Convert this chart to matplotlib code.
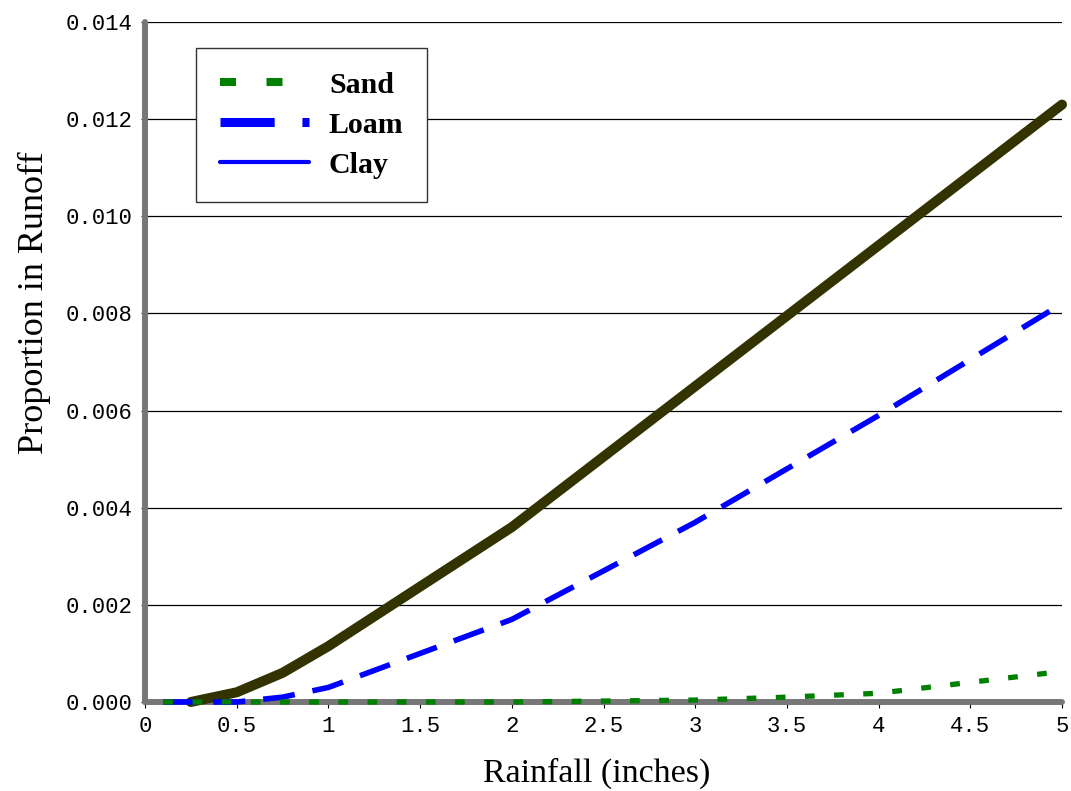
import matplotlib
matplotlib.use("Agg")
import matplotlib.pyplot as plt
from matplotlib.lines import Line2D

plt.rcParams['lines.scale_dashes'] = False

# values
clay_x = [0.25, 0.5, 0.75, 1, 2, 3, 4, 5]
clay_y = [0, 0.0002, 0.0006, 0.00115, 0.0036, 0.0065, 0.0094, 0.0123]
loam_x = [0.1, 0.5, 0.75, 1, 2, 3, 4, 5]
loam_y = [0, 0, 0.0001, 0.0003, 0.0017, 0.0037, 0.0059, 0.0082]
sand_x = [0.1, 1, 2, 3, 3.5, 4, 5]
sand_y = [0, 0, 0, 0.00004, 0.0001, 0.00018, 0.00063]

x_ticks = [0, 0.5, 1, 1.5, 2, 2.5, 3, 3.5, 4, 4.5, 5]
x_labels = ['0', '0.5', '1', '1.5', '2', '2.5', '3', '3.5', '4', '4.5', '5']
y_ticks = [0, 0.002, 0.004, 0.006, 0.008, 0.010, 0.012, 0.014]
y_labels = ['0.000', '0.002', '0.004', '0.006', '0.008', '0.010', '0.012', '0.014']

fig = plt.figure(figsize=(10.71, 7.91), dpi=100)
ax = fig.add_axes([145 / 1071, 1 - 702 / 791, 917 / 1071, 680 / 791])

ax.plot(clay_x, clay_y, color='#333300', lw=7.2, solid_capstyle='round',
        solid_joinstyle='round', zorder=3, clip_on=False)
ax.plot(loam_x, loam_y, color='#0000ff', lw=4, dashes=(23, 13), zorder=3, clip_on=False)
ax.plot(sand_x, sand_y, color='#008000', lw=3.8, dashes=(7, 14), zorder=3, clip_on=False)

ax.set_xlim(0, 5)
ax.set_ylim(0, 0.014)
ax.set_xticks(x_ticks)
ax.set_xticklabels(x_labels)
ax.set_yticks(y_ticks)
ax.set_yticklabels(y_labels)

ax.yaxis.grid(True, color='black', lw=0.9)
ax.set_axisbelow(True)

for s in ['top', 'right']:
    ax.spines[s].set_visible(False)
for s in ['left', 'bottom']:
    ax.spines[s].set_color('#777777')
    ax.spines[s].set_linewidth(4.3)
    ax.spines[s].set_capstyle('round')

ax.tick_params(axis='x', direction='out', length=4, width=0.8, color='black', pad=6)
ax.tick_params(axis='y', direction='out', length=3, width=0.8, color='black', pad=6)
for lab in ax.get_xticklabels() + ax.get_yticklabels():
    lab.set_fontfamily('Liberation Mono')
    lab.set_fontsize(16)

ax.set_xlabel('Rainfall (inches)', family='Liberation Serif', fontsize=24.5)
ax.set_ylabel('Proportion in Runoff', family='Liberation Serif', fontsize=26)
ax.xaxis.set_label_coords(0.493, -0.082)
ax.yaxis.set_label_coords(-0.103, 0.587)

handles = [
    Line2D([], [], color='#008000', lw=5.8, dashes=(11.5, 22), dash_capstyle='butt'),
    Line2D([], [], color='#0000ff', lw=6.5, dashes=(39, 20, 6, 20), dash_capstyle='butt'),
    Line2D([], [], color='#0000ff', lw=3, solid_capstyle='round'),
]
leg = ax.legend(handles, ['Sand', 'Loam', 'Clay'], loc='upper left',
                bbox_to_anchor=(51 / 917, 654 / 680), borderaxespad=0,
                prop={'family': 'Liberation Serif', 'weight': 'bold', 'size': 21.5},
                handlelength=3.0, handletextpad=0.65, labelspacing=0.43,
                borderpad=0.8, fancybox=False, framealpha=1)
leg.get_frame().set_edgecolor('#333333')
leg.get_frame().set_linewidth(1.0)

fig.savefig('out.png', dpi=100)
